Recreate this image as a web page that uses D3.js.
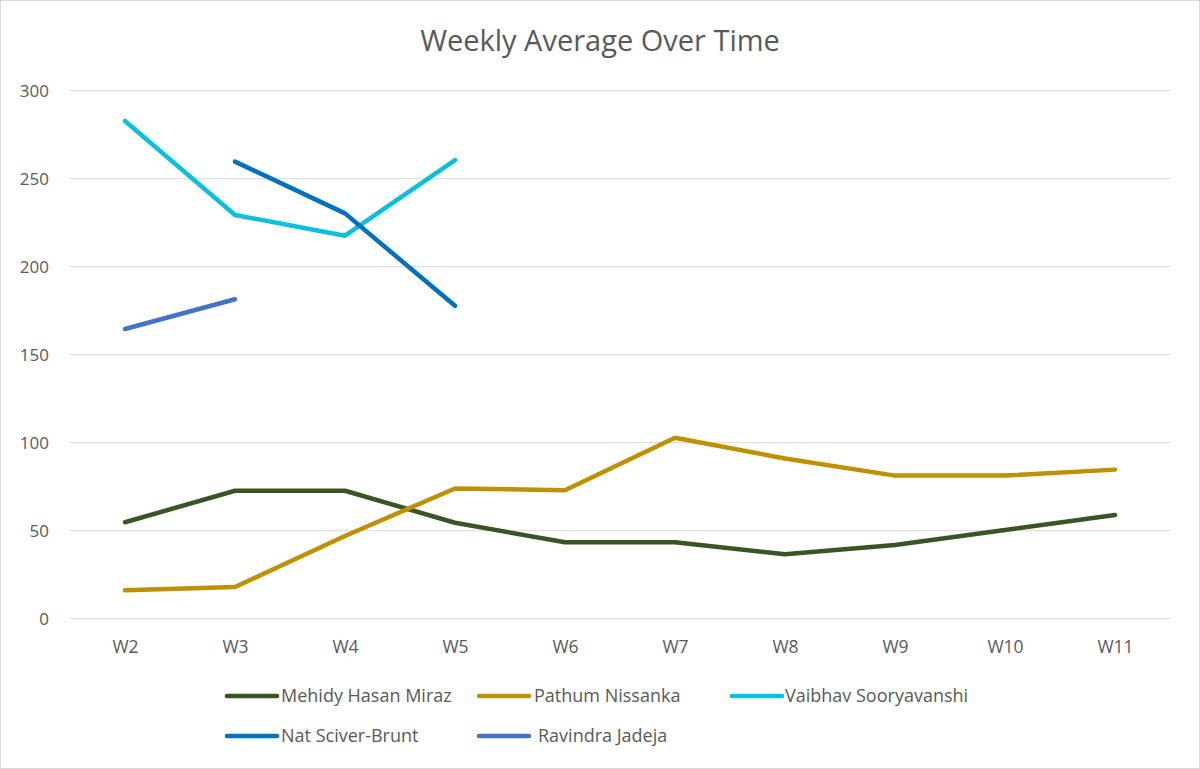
<!DOCTYPE html>
<html><head><meta charset="utf-8">
<script src="https://cdn.jsdelivr.net/npm/d3@7"></script>
<style>body{margin:0;background:#fff}svg{display:block}</style>
</head><body><svg id="c" width="1200" height="769"></svg>
<script>
const weeks = ["W2","W3","W4","W5","W6","W7","W8","W9","W10","W11"];
const yTicks = [0,50,100,150,200,250,300];
const seriesNames = ["Mehidy Hasan Miraz","Pathum Nissanka","Vaibhav Sooryavanshi","Nat Sciver-Brunt","Ravindra Jadeja"];
const seriesColors = ["#375623","#BF9000","#0BC0DC","#0070C0","#4472C4"];
const mehidy = [54.8,72.7,72.7,54.5,43.4,43.4,36.6,41.9,50.4,58.9];
const pathum = [16.1,18.0,47.0,74.0,73.0,102.8,91.0,81.3,81.3,84.7];
const vaibhav = [282.8,229.4,217.6,260.6,null,null,null,null,null,null];
const nat = [null,259.7,230.3,177.8,null,null,null,null,null,null];
const ravindra = [164.6,181.5,null,null,null,null,null,null,null,null];
const seriesValues = [mehidy,pathum,vaibhav,nat,ravindra];

const svg = d3.select("#c");
const font = "'Open Sans', sans-serif";
const txt = "#595959";
svg.append("rect").attr("x",0.5).attr("y",0.5).attr("width",1199).attr("height",768)
  .attr("fill","#fff").attr("stroke","#d9d9d9");

const x = d3.scalePoint().domain(weeks).range([125,1115]);
const y = d3.scaleLinear().domain([0,300]).range([618.7,90.7]);

// gridlines
svg.append("g").selectAll("line").data(yTicks).join("line")
  .attr("x1",70).attr("x2",1170).attr("y1",d=>y(d)).attr("y2",d=>y(d))
  .attr("stroke","#d9d9d9").attr("stroke-width",1);

// y axis
const ya = svg.append("g").attr("transform","translate(49,0)")
  .call(d3.axisLeft(y).tickValues(yTicks).tickSize(0).tickPadding(0));
ya.select(".domain").remove();
ya.selectAll("text").attr("font-family",font).attr("font-size",17).attr("fill",txt);

// x axis
const xa = svg.append("g").attr("transform","translate(0,653)")
  .call(d3.axisBottom(x).tickSize(0).tickPadding(0));
xa.select(".domain").remove();
xa.selectAll("text").attr("font-family",font).attr("font-size",17.5).attr("fill",txt)
  .attr("y",0).attr("dy",0);

// lines
const line = d3.line().defined(d=>d.v!=null).x(d=>x(d.w)).y(d=>y(d.v));
seriesValues.forEach((vals,i)=>{
  svg.append("path").datum(weeks.map((w,j)=>({w,v:vals[j]})))
    .attr("d",line).attr("fill","none").attr("stroke",seriesColors[i])
    .attr("stroke-width",4.5).attr("stroke-linecap","round").attr("stroke-linejoin","round");
});

// title
svg.append("text").attr("x",600).attr("y",51).attr("text-anchor","middle")
  .attr("font-family",font).attr("font-size",29).attr("fill",txt).text("Weekly Average Over Time");

// legend
const legPos = [[227,696,281],[479,696,534],[732,696,785],[227,736,281],[479,736,538]];
seriesNames.forEach((n,i)=>{
  const [lx,ly,tx] = legPos[i];
  svg.append("line").attr("x1",lx).attr("x2",lx+50).attr("y1",ly).attr("y2",ly)
    .attr("stroke",seriesColors[i]).attr("stroke-width",4.5).attr("stroke-linecap","round");
  svg.append("text").attr("x",tx).attr("y",ly).attr("dy","0.35em")
    .attr("font-family",font).attr("font-size",18).attr("fill",txt).text(n);
});
</script></body></html>
